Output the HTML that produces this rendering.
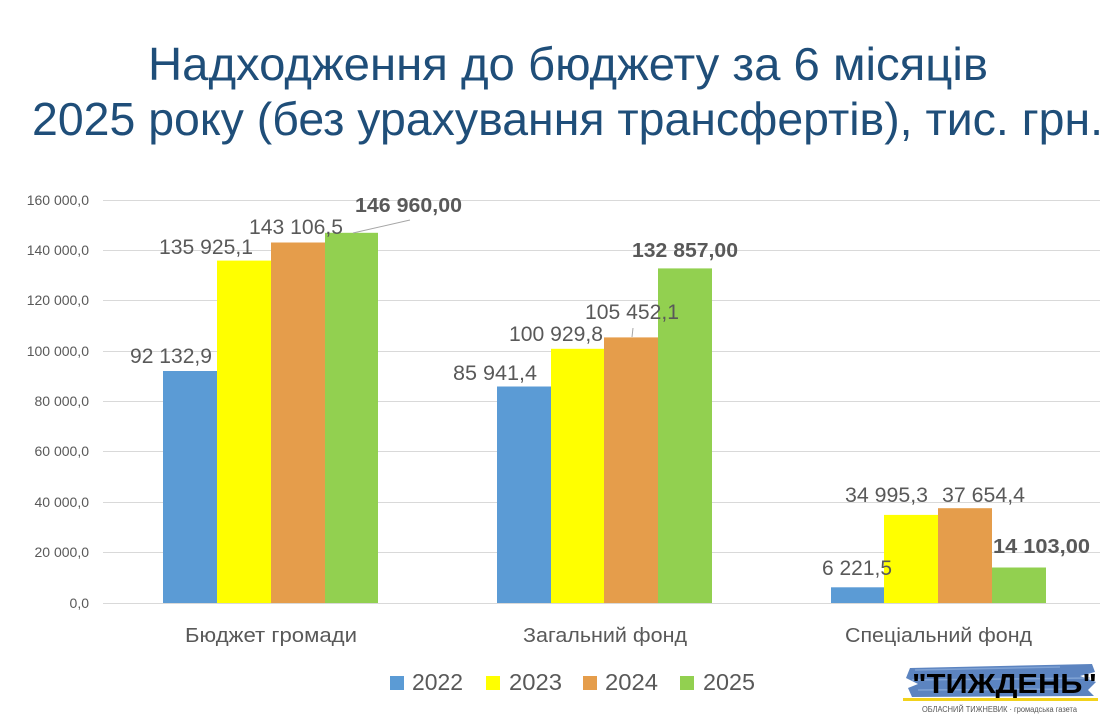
<!DOCTYPE html>
<html><head><meta charset="utf-8"><style>
html,body{margin:0;padding:0;background:#fff;}
svg{display:block;}
text{font-family:"Liberation Sans",sans-serif;}
</style></head><body>
<svg width="1111" height="720" viewBox="0 0 1111 720" xmlns="http://www.w3.org/2000/svg">
<rect width="1111" height="720" fill="#fff"/>
<!-- Title -->
<text x="148" y="80" font-size="46" fill="#1F4E79" textLength="840" lengthAdjust="spacingAndGlyphs">Надходження до бюджету за 6 місяців</text>
<text x="32" y="135" font-size="46" fill="#1F4E79" textLength="1071" lengthAdjust="spacingAndGlyphs">2025 року (без урахування трансфертів), тис. грн.</text>

<!-- gridlines -->
<g stroke="#D9D9D9" stroke-width="1">
<line x1="103" y1="603.5" x2="1100" y2="603.5"/>
<line x1="103" y1="552.5" x2="1100" y2="552.5"/>
<line x1="103" y1="502.5" x2="1100" y2="502.5"/>
<line x1="103" y1="451.5" x2="1100" y2="451.5"/>
<line x1="103" y1="401.5" x2="1100" y2="401.5"/>
<line x1="103" y1="351.5" x2="1100" y2="351.5"/>
<line x1="103" y1="300.5" x2="1100" y2="300.5"/>
<line x1="103" y1="250.5" x2="1100" y2="250.5"/>
<line x1="103" y1="200.5" x2="1100" y2="200.5"/>
</g>

<!-- y tick labels -->
<g font-size="14" fill="#595959" text-anchor="end">
<text x="89" y="608">0,0</text>
<text x="89" y="557">20 000,0</text>
<text x="89" y="507">40 000,0</text>
<text x="89" y="456">60 000,0</text>
<text x="89" y="406">80 000,0</text>
<text x="89" y="356">100 000,0</text>
<text x="89" y="305">120 000,0</text>
<text x="89" y="255">140 000,0</text>
<text x="89" y="205">160 000,0</text>
</g>

<!-- bars group 1 -->
<rect x="163" y="371" width="54" height="232" fill="#5B9BD5"/>
<rect x="217" y="260.6" width="54" height="342.4" fill="#FFFF00"/>
<rect x="271" y="242.5" width="54" height="360.5" fill="#E59D4B"/>
<rect x="325" y="232.8" width="53" height="370.2" fill="#92D050"/>
<!-- bars group 2 -->
<rect x="497" y="386.5" width="54" height="216.5" fill="#5B9BD5"/>
<rect x="551" y="348.8" width="53" height="254.2" fill="#FFFF00"/>
<rect x="604" y="337.4" width="54" height="265.6" fill="#E59D4B"/>
<rect x="658" y="268.4" width="54" height="334.6" fill="#92D050"/>
<!-- bars group 3 -->
<rect x="831" y="587.3" width="53" height="15.7" fill="#5B9BD5"/>
<rect x="884" y="514.9" width="54" height="88.1" fill="#FFFF00"/>
<rect x="938" y="508.2" width="54" height="94.8" fill="#E59D4B"/>
<rect x="992" y="567.5" width="54" height="35.5" fill="#92D050"/>

<!-- leader lines -->
<line x1="353" y1="233" x2="410" y2="220" stroke="#A6A6A6" stroke-width="1"/>
<line x1="632" y1="337" x2="633" y2="328" stroke="#A6A6A6" stroke-width="1"/>

<!-- data labels -->
<g font-size="21" fill="#595959">
<text x="130" y="363" textLength="82" lengthAdjust="spacingAndGlyphs">92 132,9</text>
<text x="159" y="254" textLength="94" lengthAdjust="spacingAndGlyphs">135 925,1</text>
<text x="249" y="234" textLength="94" lengthAdjust="spacingAndGlyphs">143 106,5</text>
<text x="453" y="380" textLength="84" lengthAdjust="spacingAndGlyphs">85 941,4</text>
<text x="509" y="341" textLength="94" lengthAdjust="spacingAndGlyphs">100 929,8</text>
<text x="585" y="319" textLength="94" lengthAdjust="spacingAndGlyphs">105 452,1</text>
<text x="822" y="575" textLength="70" lengthAdjust="spacingAndGlyphs">6 221,5</text>
<text x="845" y="502" textLength="83" lengthAdjust="spacingAndGlyphs">34 995,3</text>
<text x="942" y="502" textLength="83" lengthAdjust="spacingAndGlyphs">37 654,4</text>
</g>
<g font-size="20" fill="#595959" font-weight="bold">
<text x="355" y="212" textLength="107" lengthAdjust="spacingAndGlyphs">146 960,00</text>
<text x="632" y="257" textLength="106" lengthAdjust="spacingAndGlyphs">132 857,00</text>
<text x="993" y="553" textLength="97" lengthAdjust="spacingAndGlyphs">14 103,00</text>
</g>

<!-- category labels -->
<g font-size="20" fill="#595959">
<text x="185" y="642" textLength="172" lengthAdjust="spacingAndGlyphs">Бюджет громади</text>
<text x="523" y="642" textLength="164" lengthAdjust="spacingAndGlyphs">Загальний фонд</text>
<text x="845" y="642" textLength="187" lengthAdjust="spacingAndGlyphs">Спеціальний фонд</text>
</g>

<!-- legend -->
<rect x="390" y="676" width="14" height="14" fill="#5B9BD5"/>
<rect x="486" y="676" width="14" height="14" fill="#FFFF00"/>
<rect x="583" y="676" width="14" height="14" fill="#E59D4B"/>
<rect x="680" y="676" width="14" height="14" fill="#92D050"/>
<g font-size="23" fill="#595959">
<text x="412" y="690" textLength="51" lengthAdjust="spacingAndGlyphs">2022</text>
<text x="509" y="690" textLength="53" lengthAdjust="spacingAndGlyphs">2023</text>
<text x="605" y="690" textLength="53" lengthAdjust="spacingAndGlyphs">2024</text>
<text x="703" y="690" textLength="52" lengthAdjust="spacingAndGlyphs">2025</text>
</g>

<!-- logo -->
<g>
<path d="M910 668 L1092 664 L1095 672 L1080 676 L1096 682 L1088 690 L1094 696 L912 697 L908 688 L918 684 L906 678 Z" fill="#3F6FB5" opacity="0.85"/>
<path d="M915 670 L1060 667 M912 680 L1090 678 M918 690 L1080 689" stroke="#8FB0DD" stroke-width="1.5" opacity="0.7"/>
<text x="912" y="693" font-size="28" font-weight="bold" fill="#000" textLength="185" lengthAdjust="spacingAndGlyphs">"ТИЖДЕНЬ"</text>
<rect x="903" y="698" width="195" height="3" fill="#F2D21B"/>
<text x="922" y="712" font-size="8" fill="#555" textLength="155" lengthAdjust="spacingAndGlyphs">ОБЛАСНИЙ ТИЖНЕВИК · громадська газета</text>
</g>
</svg>
</body></html>
